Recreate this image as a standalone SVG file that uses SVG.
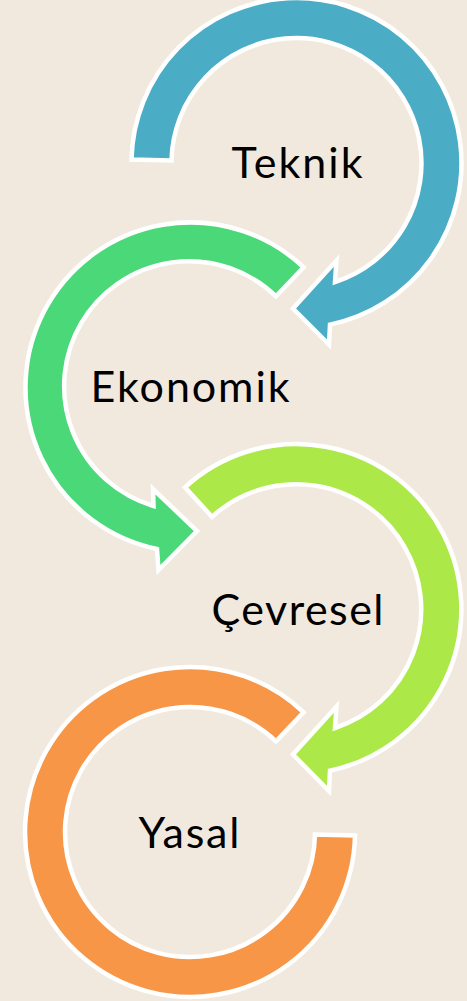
<svg xmlns="http://www.w3.org/2000/svg" width="467" height="1001" viewBox="0 0 467 1001">
  <style>
    .ring { stroke: #FFFFFF; stroke-width: 4.5; stroke-linejoin: miter; stroke-miterlimit: 10; }
    .lbl { font-family: Lato, "Open Sans", "Liberation Sans", sans-serif; font-size: 43px; fill: #000000; text-anchor: middle; }
  </style>
  <rect x="0" y="0" width="467" height="1001" fill="#F1E9DE"/>
  <g id="connectors"></g>
  <g id="node-teknik">
    <path class="ring" fill="#4BACC6" d="M131.5,159.5 A165,165 0 1 1 330,324.6 L329,344.5 L293,308.5 L336.5,260.5 L335,282 A125,125 0 1 0 171.5,160.4 Z"/>
    <text class="lbl" x="297" y="178" textLength="131">Teknik</text>
  </g>
  <g id="node-ekonomik">
    <path class="ring" fill="#4AD878" d="M303.6,267.3 A165,165 0 1 0 157,549 L158.5,570 L197,531 L153,489 L153.5,506 A125,125 0 1 1 276,296.3 Z"/>
    <text class="lbl" x="190" y="402" textLength="199">Ekonomik</text>
  </g>
  <g id="node-cevresel">
    <path class="ring" fill="#ACE848" d="M185,487.3 A165,165 0 1 1 330,770.6 L329,791 L293,754.5 L336.5,706.5 L335,728 A125,125 0 1 0 212,516.8 Z"/>
    <text class="lbl" x="297.5" y="625" textLength="172">Çevresel</text>
  </g>
  <g id="node-yasal">
    <path class="ring" fill="#F79646" d="M303.6,712.3 A165,165 0 1 0 355,835.5 L315,834.6 A125,125 0 1 1 276,741.3 Z"/>
    <text class="lbl" x="189" y="848" textLength="101">Yasal</text>
  </g>
</svg>
